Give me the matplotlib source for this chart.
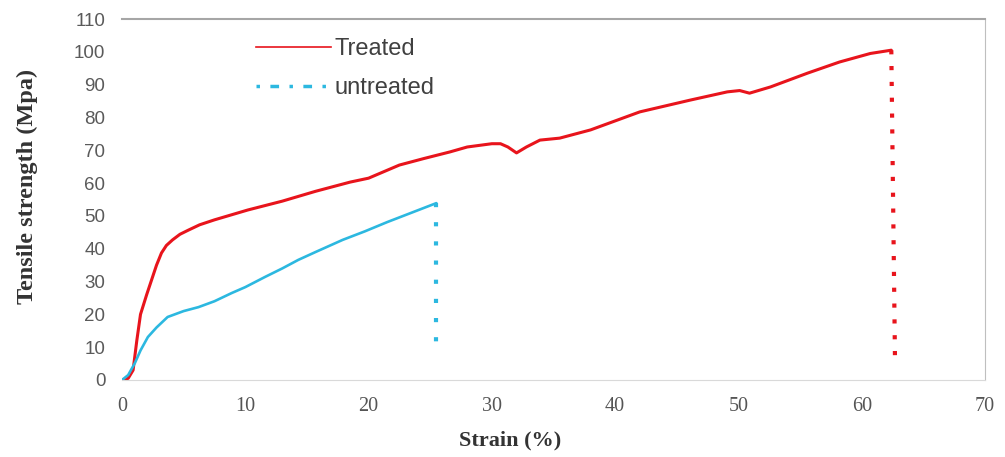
import matplotlib.pyplot as plt
from matplotlib.lines import Line2D

# Treated curve (strain %, MPa)
treated_x = [0, 0.5, 0.9, 1.2, 1.5, 2.0, 2.4, 2.8, 3.2, 3.6, 4.1, 4.7, 5.4, 6.3, 7.5,
             10.2, 13.0, 15.7, 18.5, 20.0, 22.5, 24.5, 26.6, 28.0, 30.0, 30.7, 31.3,
             32.0, 32.8, 33.9, 35.5, 38.0, 42.0, 46.1, 49.1, 50.1, 50.9, 52.6, 55.6,
             58.2, 60.7, 62.4]
treated_y = [0, 0.5, 3, 12, 20, 26, 30.5, 35, 38.7, 41, 42.7, 44.4, 45.7, 47.3, 48.8,
             51.8, 54.5, 57.5, 60.3, 61.5, 65.5, 67.5, 69.5, 71.0, 72.0, 72.0, 71.0,
             69.2, 71.0, 73.1, 73.7, 76.2, 81.7, 85.3, 87.8, 88.2, 87.4, 89.3, 93.5,
             96.9, 99.5, 100.5]
treated_break_x = [62.4, 62.7]
treated_break_y = [100.5, 6]

# Untreated curve
untreated_x = [0, 0.5, 1.05, 1.5, 2.1, 2.8, 3.7, 5.0, 6.2, 7.5, 8.9, 10.0, 11.6, 13.0,
               14.3, 15.7, 17.9, 19.7, 21.5, 23.5, 25.5]
untreated_y = [0, 1.5, 5.2, 9, 13.1, 16, 19.2, 21, 22.2, 24, 26.5, 28.3, 31.4, 34,
               36.6, 39, 42.7, 45.3, 48.1, 51, 53.9]
untreated_break_x = [25.5, 25.5]
untreated_break_y = [53.9, 10]

red = "#e8141c"
cyan = "#2cb8e0"

fig = plt.figure(figsize=(10.05, 4.57), dpi=100)
ax = fig.add_axes([0.1214, 0.1685, 0.8587, 0.7899])

ax.plot(treated_x, treated_y, color=red, lw=2.2, solid_capstyle="round",
        solid_joinstyle="round")
ax.plot(treated_break_x, treated_break_y, color=red, lw=3, linestyle=(0, (1, 2.8)))
ax.plot(untreated_x, untreated_y, color=cyan, lw=1.9, solid_capstyle="round",
        solid_joinstyle="round")
ax.plot(untreated_break_x, untreated_break_y, color=cyan, lw=3, linestyle=(0, (1, 3.6)))

ax.set_xlim(0, 70)
ax.set_ylim(0, 110)
ax.set_xticks(range(0, 71, 10))
ax.set_yticks(range(0, 111, 10))
ax.tick_params(length=0)
ax.tick_params(axis="x", pad=12, labelsize=14.5, labelcolor="#555555")
ax.tick_params(axis="y", pad=12, labelsize=13.5, labelcolor="#5a5a5a")
for lab in ax.get_xticklabels():
    lab.set_family("Liberation Serif")
for lab in ax.get_yticklabels():
    lab.set_family("Liberation Sans")

ax.spines["left"].set_visible(False)
ax.spines["bottom"].set_color("#d9d9d9")
ax.spines["top"].set_color("#a6a6a6")
ax.spines["top"].set_linewidth(1.5)
ax.spines["right"].set_color("#bfbfbf")

ax.set_xlabel("Strain (%)", fontsize=16, fontweight="bold", family="Liberation Serif",
              color="#333333")
ax.xaxis.set_label_coords(0.45, -0.139)
ax.set_ylabel("Tensile strength (Mpa)", fontsize=17.5, fontweight="bold",
              family="Liberation Serif", color="#333333")
ax.yaxis.set_label_coords(-0.097, 0.535)

handles = [Line2D([], [], color=red, lw=1.2),
           Line2D([], [], color=cyan, lw=2.5, linestyle=(0, (1, 3, 2.5, 3)))]
ax.legend(handles, ["Treated", "untreated"], loc="upper left",
          bbox_to_anchor=(0.155, 0.948), frameon=False, borderpad=0,
          borderaxespad=0, handlelength=3.2, handletextpad=0.15, labelspacing=0.75,
          prop={"family": "Liberation Sans", "size": 17}, labelcolor="#404040")

fig.savefig("out.png", dpi=100)
